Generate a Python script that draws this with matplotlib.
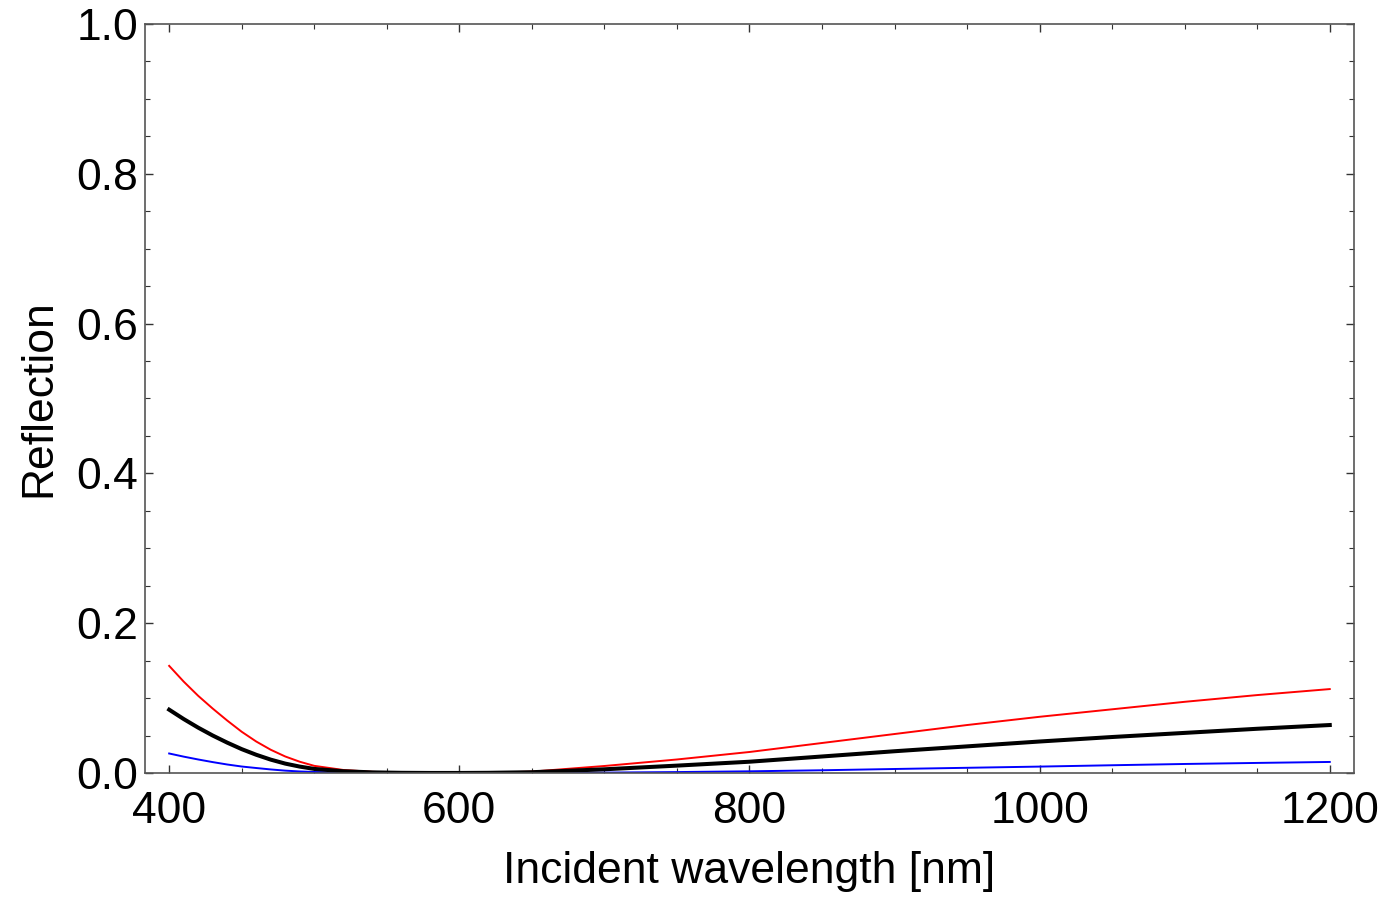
import matplotlib
matplotlib.use('Agg')
import matplotlib.pyplot as plt
from matplotlib.ticker import MultipleLocator

plt.rcParams['font.family'] = ['Liberation Sans', 'DejaVu Sans']

# values
wavelength = [400, 410, 420, 430, 440, 450, 460, 470, 480, 490, 500, 520, 540, 560, 580,
              600, 620, 650, 700, 750, 800, 850, 900, 950, 1000, 1050, 1100, 1150, 1200]
refl_red = [0.143, 0.122, 0.103, 0.086, 0.070, 0.055, 0.042, 0.031, 0.022, 0.015, 0.0095,
            0.004, 0.0015, 0.0003, 0.0, 0.0, 0.0003, 0.0018, 0.0093, 0.018, 0.028, 0.040,
            0.052, 0.064, 0.075, 0.085, 0.095, 0.104, 0.112]
refl_black = [0.0845, 0.072, 0.0605, 0.050, 0.0405, 0.0318, 0.0243, 0.0178, 0.0125, 0.0085, 0.0054,
              0.0023, 0.0008, 0.0002, 0.0, 0.0, 0.0002, 0.001, 0.0049, 0.0098, 0.015, 0.022,
              0.029, 0.0355, 0.042, 0.048, 0.0535, 0.059, 0.064]
refl_blue = [0.026, 0.0218, 0.018, 0.0145, 0.0113, 0.0086, 0.0066, 0.0047, 0.0031, 0.002, 0.0013,
             0.0005, 0.0001, 0.0, 0.0, 0.0, 0.0, 0.0001, 0.0005, 0.0012, 0.0022, 0.0036,
             0.0053, 0.0069, 0.0085, 0.0103, 0.012, 0.0134, 0.0147]

fig = plt.figure(figsize=(13.87, 8.99), dpi=100)
ax = fig.add_axes([0.1045, 0.1402, 0.8717, 0.8331])

ax.plot(wavelength, refl_red, color='red', lw=1.4)
ax.plot(wavelength, refl_blue, color='blue', lw=1.4)
ax.plot(wavelength, refl_black, color='black', lw=2.9)

ax.set_xlim(383.3, 1216.7)
ax.set_ylim(0, 1.0)
ax.xaxis.set_major_locator(MultipleLocator(200))
ax.xaxis.set_minor_locator(MultipleLocator(50))
ax.yaxis.set_major_locator(MultipleLocator(0.2))
ax.yaxis.set_minor_locator(MultipleLocator(0.05))
ax.yaxis.set_major_formatter(matplotlib.ticker.FormatStrFormatter('%.1f'))

for s in ax.spines.values():
    s.set_color('#555555')
    s.set_linewidth(1.2)
ax.tick_params(which='both', direction='in', top=True, right=True, labelsize=32, color='#333333')
ax.tick_params(which='major', length=6, width=1.0)
ax.tick_params(which='minor', length=3.5, width=0.8)
ax.tick_params(axis='x', which='major', pad=13)
ax.tick_params(axis='y', which='major', pad=5)

ax.set_xlabel('Incident wavelength [nm]', fontsize=32, labelpad=14)
ax.set_ylabel('Reflection', fontsize=32, labelpad=12)

fig.savefig('out.png', dpi=100)
